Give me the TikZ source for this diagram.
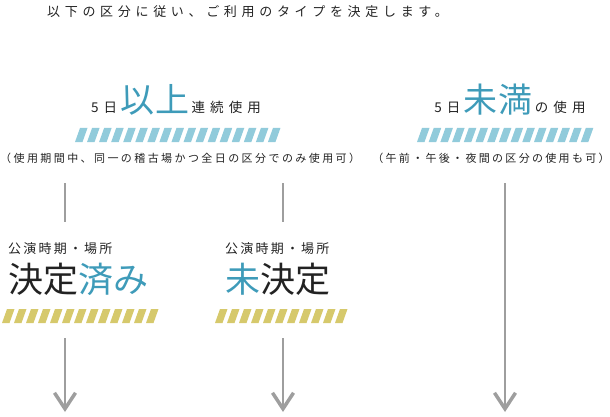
\documentclass[tikz,border=0pt]{standalone}
\usepackage{fontspec}
\setmainfont{Noto Sans CJK JP}
\usetikzlibrary{arrows.meta}

\definecolor{inkgray}{RGB}{34,34,34}
\definecolor{keyblue}{RGB}{62,155,185}
\definecolor{barblue}{RGB}{145,203,219}
\definecolor{baryellow}{RGB}{214,201,108}
\definecolor{flowgray}{RGB}{158,158,158}

\newcommand\keyword[1]{\hspace{3pt}{\fontsize{34}{36}\selectfont\addfontfeature{LetterSpace=4}\color{keyblue}#1}\hspace{2pt}}

\begin{document}
\begin{tikzpicture}[x=1pt,y=-1pt]
      \tikzstyle{every node}=[inner sep=0pt,text=inkgray]
      \tikzstyle{lead}=[font=\fontsize{13}{15}\selectfont\addfontfeature{LetterSpace=36}]
      \tikzstyle{heading}=[font=\fontsize{13.5}{15}\selectfont\addfontfeature{LetterSpace=38}]
      \tikzstyle{note}=[font=\fontsize{11}{13}\selectfont\addfontfeature{LetterSpace=21}]
      \tikzstyle{wide note}=[font=\fontsize{11}{13}\selectfont\addfontfeature{LetterSpace=22}]
      \tikzstyle{subhead}=[font=\fontsize{13}{15}\selectfont\addfontfeature{LetterSpace=17}]
      \tikzstyle{status}=[font=\fontsize{35}{37}\selectfont]
      \tikzstyle{flow}=[draw=flowgray,line width=2pt]
      \tikzstyle{down}=[-{Straight Barb[length=16pt,width=21pt,line width=3.5pt]}]

      \useasboundingbox (0,0) rectangle (610,417);

      \node[lead,anchor=west]    (intro)  at (47,12)   {以下の区分に従い、ご利用のタイプを決定します。};

      \node[heading,anchor=base] (moreHd) at (176,113) {5日\keyword{以上}連続使用};
      \node[heading,anchor=base] (lessHd) at (510,113) {5日\keyword{未満}の使用};
      \node[wide note,anchor=west] (moreNt) at (0,158) {（使用期間中、同一の稽古場かつ全日の区分でのみ使用可）};
      \node[note]                (lessNt) at (491,158) {（午前・午後・夜間の区分の使用も可）};

      \node[subhead,anchor=west] (fixSub) at (8,249)   {公演時期・場所};
      \node[status,anchor=west]  (fixSt)  at (8,279)   {決定{\color{keyblue}済み}};
      \node[subhead,anchor=west] (openSub) at (225,249) {公演時期・場所};
      \node[status,anchor=west]  (openSt) at (225,279) {{\color{keyblue}未}決定};

      % striped bars
      \foreach \n in {0,...,16}
        \fill[barblue] (75+\n*12.06,142) -- ++(7.5,0) -- ++(5,-14) -- ++(-7.5,0) -- cycle;
      \foreach \n in {0,...,14}
        \fill[barblue] (417+\n*11.7,142) -- ++(7.5,0) -- ++(5,-14) -- ++(-7.5,0) -- cycle;
      \foreach \n in {0,...,12}
        \fill[baryellow] (2+\n*12,323) -- ++(7.5,0) -- ++(5,-14) -- ++(-7.5,0) -- cycle;
      \foreach \n in {0,...,10}
        \fill[baryellow] (215+\n*12,323) -- ++(7.5,0) -- ++(5,-14) -- ++(-7.5,0) -- cycle;

      \coordinate (moreTop) at (65,183);
      \coordinate (moreEnd) at (65,222);
      \coordinate (openTop) at (283,183);
      \coordinate (openEnd) at (283,222);
      \coordinate (fixFrom) at (65,338);
      \coordinate (fixTo)   at (65,412);
      \coordinate (openFrom) at (283,338);
      \coordinate (openTo)  at (283,412);
      \coordinate (lessTop) at (505,183);
      \coordinate (lessTo)  at (505,412);

      \draw[flow] (moreTop) -- (moreEnd);
      \draw[flow] (openTop) -- (openEnd);
      \draw[flow,down] (fixFrom) -- (fixTo);
      \draw[flow,down] (openFrom) -- (openTo);
      \draw[flow,down] (lessTop) -- (lessTo);
\end{tikzpicture}
\end{document}
